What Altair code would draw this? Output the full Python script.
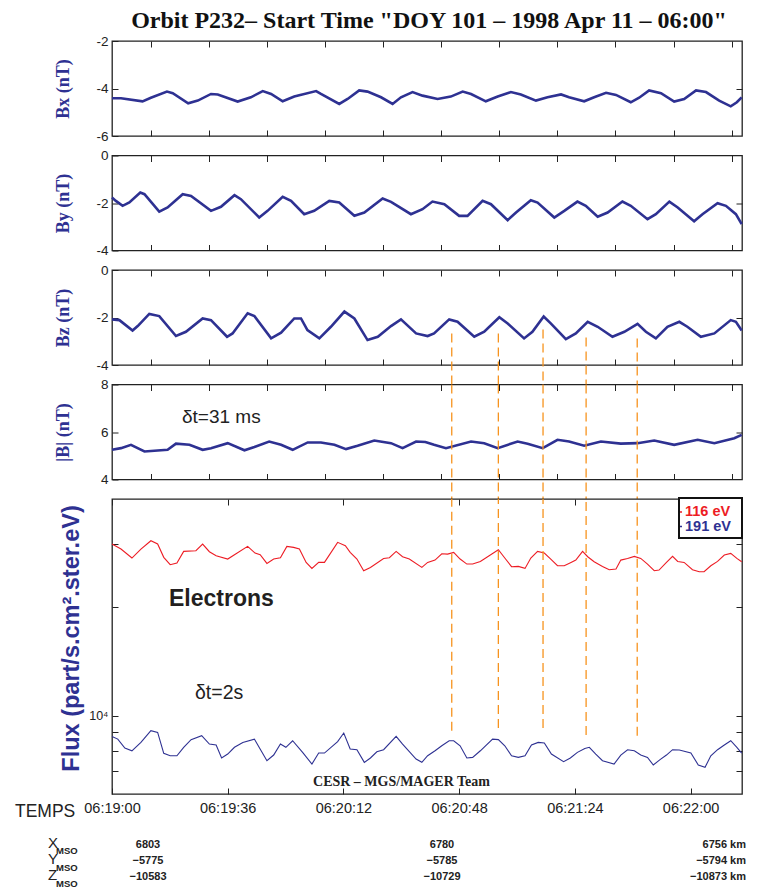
import json
import altair as alt
import pandas as pd

# ---------------- data ----------------
# time axis: seconds after 06:19:00
BX_T = [0, 2.8, 9.5, 12.1, 17.1, 18.9, 23.7, 26.7, 30.8, 32.9, 39.1, 43.2, 46.9, 49.5, 53.1, 56.7, 63.5, 65.0, 70.7, 73.3,
        76.9, 79.5, 83.7, 87.3, 89.9, 93.5, 96.6, 101.3, 105.4, 109.1, 111.7, 116.3, 120.0, 124.1, 127.2, 131.9, 135.5, 139.7, 142.2, 146.9,
        150.0, 153.7, 156.8, 161.4, 164.0, 167.1, 170.8, 174.9, 178.0, 181.7, 184.8, 188.9, 192.5, 194.4, 195.9]
BX_V = [-4.41, -4.41, -4.54, -4.39, -4.13, -4.20, -4.62, -4.51, -4.23, -4.25, -4.55, -4.37, -4.11, -4.23, -4.54, -4.34, -4.11, -4.23, -4.65, -4.44,
        -4.08, -4.13, -4.37, -4.65, -4.37, -4.15, -4.30, -4.44, -4.34, -4.13, -4.23, -4.54, -4.34, -4.15, -4.25, -4.51, -4.37, -4.25, -4.37, -4.54,
        -4.37, -4.18, -4.27, -4.58, -4.39, -4.08, -4.20, -4.55, -4.44, -4.08, -4.15, -4.51, -4.75, -4.58, -4.37]

BY_T = [0, 1.2, 3.3, 5.4, 8.8, 10.1, 14.7, 17.3, 22.0, 24.6, 30.8, 33.9, 38.1, 40.1, 45.8, 48.4, 53.1, 55.7, 59.8, 62.9,
        67.6, 70.7, 75.4, 78.5, 84.2, 86.8, 93.0, 96.6, 99.7, 103.4, 108.0, 110.6, 115.3, 117.9, 123.1, 125.7, 130.3, 132.4, 137.6, 140.7,
        144.8, 147.4, 151.1, 154.2, 158.8, 161.4, 166.6, 169.2, 173.4, 176.0, 181.1, 183.7, 188.4, 191.0, 194.1, 195.9]
BY_V = [-1.77, -1.91, -2.12, -1.98, -1.56, -1.63, -2.36, -2.19, -1.63, -1.70, -2.33, -2.16, -1.67, -1.84, -2.61, -2.33, -1.74, -1.91, -2.47, -2.33,
        -1.91, -1.98, -2.54, -2.40, -1.81, -1.95, -2.47, -2.26, -1.94, -2.05, -2.54, -2.54, -1.91, -2.05, -2.72, -2.40, -1.88, -1.98, -2.61, -2.33,
        -1.94, -2.12, -2.58, -2.40, -1.94, -2.12, -2.68, -2.47, -1.94, -2.19, -2.77, -2.47, -2.01, -2.12, -2.47, -2.89]

BZ_T = [0, 2.3, 6.4, 8.0, 11.6, 14.7, 19.9, 23.0, 28.2, 30.8, 35.8, 37.5, 42.2, 44.3, 49.5, 52.6, 56.7, 58.8, 60.8, 64.5,
        68.1, 72.3, 75.4, 79.5, 82.7, 86.8, 89.9, 94.6, 98.2, 100.2, 104.9, 107.5, 112.7, 115.8, 120.5, 123.1, 128.2, 130.8, 134.3, 136.5,
        141.2, 144.3, 148.0, 151.1, 155.7, 159.4, 163.5, 166.1, 169.2, 172.8, 176.5, 179.0, 183.2, 187.4, 192.5, 194.1, 195.9]
BZ_V = [-2.08, -2.11, -2.55, -2.36, -1.85, -1.94, -2.78, -2.60, -2.04, -2.11, -2.81, -2.67, -1.82, -1.94, -2.88, -2.64, -2.04, -2.04, -2.53, -2.88,
        -2.39, -1.75, -2.04, -2.95, -2.81, -2.36, -2.08, -2.67, -2.78, -2.67, -2.08, -2.18, -2.81, -2.60, -1.99, -2.25, -2.88, -2.60, -1.96, -2.25,
        -2.91, -2.67, -2.18, -2.39, -2.81, -2.60, -2.27, -2.60, -2.88, -2.39, -2.18, -2.39, -2.81, -2.67, -2.11, -2.18, -2.55]

BM_T = [0, 2.8, 5.9, 10.1, 17.3, 19.9, 24.1, 28.2, 30.8, 36.0, 41.2, 44.3, 48.9, 52.6, 56.2, 60.9, 65.0, 69.2, 72.8, 76.4,
        81.6, 86.8, 90.4, 94.6, 97.5, 100.2, 103.9, 111.7, 115.8, 120.0, 126.2, 129.3, 134.0, 138.6, 142.2, 146.9, 152.1, 158.3, 163.5, 168.7,
        174.9, 182.2, 187.4, 193.6, 195.9]
BM_V = [5.25, 5.32, 5.46, 5.18, 5.25, 5.51, 5.46, 5.25, 5.32, 5.53, 5.23, 5.37, 5.60, 5.46, 5.25, 5.56, 5.56, 5.46, 5.28, 5.42,
        5.64, 5.53, 5.32, 5.60, 5.58, 5.46, 5.32, 5.60, 5.53, 5.32, 5.60, 5.51, 5.32, 5.67, 5.60, 5.42, 5.60, 5.51, 5.53, 5.64,
        5.46, 5.67, 5.53, 5.74, 5.88]

E116_T = [0.0, 2.8, 6.2, 9.0, 12.1, 14.2, 16.1, 18.1, 20.2, 22.3, 26.1, 28.2, 30.3, 32.4, 36.0, 42.2, 44.5, 46.1, 48.2, 50.3,
          52.4, 54.4, 56.5, 58.3, 60.4, 62.2, 64.3, 66.1, 70.2, 72.6, 74.1, 76.2, 78.3, 80.4, 84.5, 86.3, 88.4, 90.4, 92.5, 96.4,
          98.2, 100.5, 102.6, 104.4, 106.3, 108.3, 110.4, 112.2, 114.6, 120.2, 122.2, 124.3, 126.4, 128.5, 130.3, 132.4, 134.5, 136.5, 138.6, 140.7,
          142.8, 144.3, 146.4, 148.0, 150.0, 152.6, 154.7, 156.8, 158.3, 160.4, 162.5, 164.5, 166.6, 168.7, 170.2, 172.5, 174.4, 176.0, 178.0, 180.6,
          182.7, 184.2, 186.3, 188.4, 190.5, 192.5, 194.4, 195.9]
E116_V = [29990, 29040, 27420, 29040, 30630, 29990, 27540, 26270, 26550, 28610, 28730, 29990, 28550, 27830, 27240, 29540, 28310, 28000, 26490, 27240,
          27480, 29540, 29350, 29040, 26660, 25660, 26660, 26660, 30310, 29670, 28430, 27240, 25280, 25820, 27350, 27480, 28610, 27650, 27240, 25820,
          26660, 27060, 28180, 28120, 28430, 27240, 26380, 26380, 26830, 28920, 27420, 25940, 25990, 25660, 27420, 28610, 28310, 27240, 26100, 26100,
          26660, 27060, 28610, 27650, 26780, 25990, 25440, 25550, 27060, 27350, 27710, 27350, 26380, 25280, 25390, 26660, 27710, 26830, 26660, 25440,
          25120, 25120, 26100, 26830, 27940, 28250, 27350, 26780]

E191_T = [0.0, 1.8, 4.0, 6.2, 9.0, 12.1, 14.2, 16.1, 18.1, 20.2, 22.3, 24.6, 27.9, 30.3, 32.4, 34.1, 36.0, 38.1, 40.7, 44.3,
          46.4, 48.2, 50.3, 52.4, 54.1, 56.2, 59.3, 62.2, 64.3, 66.1, 70.2, 72.1, 74.1, 76.2, 78.5, 80.4, 82.4, 84.5, 88.4, 90.4,
          94.6, 96.4, 98.2, 100.5, 102.6, 104.9, 106.3, 108.3, 110.4, 112.2, 114.6, 118.4, 120.2, 122.2, 124.3, 126.4, 128.5, 130.5, 132.6, 134.5,
          136.7, 140.5, 142.6, 144.8, 147.1, 148.5, 150.5, 152.6, 156.2, 158.3, 160.4, 162.5, 164.5, 166.6, 168.4, 170.5, 172.5, 174.4, 176.5, 180.1,
          182.4, 184.5, 186.3, 188.4, 190.5, 192.5, 194.4, 195.9]
E191_V = [8760, 8610, 8130, 7990, 8430, 9085, 8990, 7860, 7740, 7740, 8170, 8580, 8800, 8340, 8290, 7630, 7825, 8170, 8430, 8610,
          7990, 7500, 7775, 8340, 8170, 8520, 7910, 7340, 7875, 7875, 8470, 8950, 8080, 8045, 7420, 7630, 7940, 8045, 8760, 8340,
          7580, 7420, 7740, 7990, 8250, 8520, 8520, 8250, 7630, 7660, 7990, 8610, 8580, 8250, 7740, 7660, 7740, 8290, 8430, 8400,
          7825, 7450, 7630, 7910, 8110, 8170, 7825, 7500, 7340, 7775, 8045, 7990, 7775, 7660, 7295, 7550, 7775, 8045, 8030, 7875,
          7295, 7186, 7740, 8045, 8290, 8520, 8170, 7875]

DASH_T = [105.7, 120.2, 134.1, 147.5, 163.4]
DASH_BZ_START = [-2.67, -2.67, -2.50, -2.84, -2.88]
DASH_FLUX_END = [9085, 9240, 9240, 8840, 8800]

MAG_XTICKS = [12.1, 30.2, 48.2, 66.3, 84.4, 102.4, 120.5, 138.6, 156.6, 174.7, 192.8]
FLUX_XTICKS = [0, 36, 72, 108, 144, 180]
FLUX_XLABELS = ["06:19:00", "06:19:36", "06:20:12", "06:20:48", "06:21:24", "06:22:00"]
FLUX_YTICKS = [7000, 8000, 9000, 10000, 20000, 30000]

COORD_ROWS = ["X", "Y", "Z"]
COORD_START = ["6803", "\u22125775", "\u221210583"]
COORD_MID = ["6780", "\u22125785", "\u221210729"]
COORD_END = ["6756 km", "\u22125794 km", "\u221210873 km"]

TITLE = 'Orbit P232\u2013 Start Time "DOY 101 \u2013 1998 Apr 11 \u2013 06:00"'

# ---------------- style ----------------
NAVY = "#2E3192"
RED = "#ED1C24"
ORANGE = "#F7931E"
INK = "#222222"
SANS = "Liberation Sans"
SERIF = "Liberation Serif"

W, H, HF, SP = 630, 95, 295, 19.5
OFF = 6
xscale = alt.Scale(domain=[0, 196], nice=False, zero=False)
flux_scale = alt.Scale(type="log", domain=[6060, 40000], nice=False, zero=False)


def text_layer(s, x, y, size, font=SANS, weight="normal", color=INK, align="left", baseline="alphabetic"):
    return alt.Chart(pd.DataFrame({"s": [s]})).mark_text(
        font=font, fontSize=size, fontWeight=weight, color=color, align=align, baseline=baseline
    ).encode(text="s:N", x=alt.value(x), y=alt.value(y))


def tick_axis(orient, values, **kw):
    base = dict(orient=orient, values=values, labels=False, offset=-OFF, tickSize=OFF,
                domain=False, grid=False, title=None, tickColor=INK)
    base.update(kw)
    return alt.Axis(**base)


def mag_panel(t, v, dom, yticks, title, extra=()):
    df = pd.DataFrame({"t": t, "v": v})
    ysc = alt.Scale(domain=dom, nice=False, zero=False)
    yaxis = tick_axis(
        "left", yticks, labels=True, labelExpr="toString(datum.value)", labelPadding=4,
        labelFont=SANS, labelFontSize=13.5, labelColor=INK,
        title=title, titleFont=SERIF, titleFontSize=18, titleFontWeight="bold", titleColor=NAVY,
        titleX=-55, titleY=H / 2, titleAngle=-90, titleAlign="center", titleBaseline="middle",
    )
    line = alt.Chart(df).mark_line(color=NAVY, strokeWidth=2.6).encode(
        x=alt.X("t:Q", scale=xscale, axis=tick_axis("bottom", MAG_XTICKS)),
        y=alt.Y("v:Q", scale=ysc, axis=yaxis),
    )
    ghost = alt.Chart(df).mark_line(strokeOpacity=0).encode(
        x=alt.X("t:Q", scale=xscale, axis=tick_axis("top", MAG_XTICKS)),
        y=alt.Y("v:Q", scale=ysc, axis=tick_axis("right", [yticks[1]])),
    )
    layers = [line, ghost] + [e(ysc) for e in extra]
    return alt.layer(*layers).resolve_axis(x="independent", y="independent").properties(width=W, height=H)


dash_style = dict(color=ORANGE, strokeDash=[9, 5], strokeWidth=1.3)


def title_text(ysc):
    return text_layer(TITLE, 317, -13, 24, font=SERIF, weight="bold", color="#111111", align="center")


def bz_dashes(ysc):
    df = pd.DataFrame({"t": DASH_T, "ys": DASH_BZ_START})
    return alt.Chart(df).mark_rule(**dash_style).encode(
        x=alt.X("t:Q", scale=xscale, axis=None),
        y=alt.Y("ys:Q", scale=ysc, axis=None),
        y2=alt.value(H + SP),
    )


def bmag_dashes(ysc):
    df = pd.DataFrame({"t": DASH_T})
    return alt.Chart(df).mark_rule(**dash_style).encode(
        x=alt.X("t:Q", scale=xscale, axis=None),
        y=alt.value(0),
        y2=alt.value(H + SP),
    )


def bmag_text(ysc):
    return text_layer("\u03b4t=31 ms", 70, 38, 19)


bx = mag_panel(BX_T, BX_V, [-6, -2], [-6, -4, -2], "Bx (nT)", extra=(title_text,))
by = mag_panel(BY_T, BY_V, [-4, 0], [-4, -2, 0], "By (nT)")
bz = mag_panel(BZ_T, BZ_V, [-4, 0], [-4, -2, 0], "Bz (nT)", extra=(bz_dashes,))
bm = mag_panel(BM_T, BM_V, [4, 8], [4, 6, 8], "|B| (nT)", extra=(bmag_dashes, bmag_text))

# ---------------- flux panel ----------------
df116 = pd.DataFrame({"t": E116_T, "f": E116_V})
df191 = pd.DataFrame({"t": E191_T, "f": E191_V})
label_expr = "{}[indexof({}, datum.value)]".format(json.dumps(FLUX_XLABELS), json.dumps(FLUX_XTICKS))

red = alt.Chart(df116).mark_line(color=RED, strokeWidth=1.1).encode(
    x=alt.X("t:Q", scale=xscale, axis=tick_axis(
        "bottom", FLUX_XTICKS, labels=True, labelExpr=label_expr, labelFlush=False,
        labelFont=SANS, labelFontSize=14.5, labelColor=INK, labelPadding=7)),
    y=alt.Y("f:Q", scale=flux_scale, axis=tick_axis(
        "left", FLUX_YTICKS, labels=True, labelExpr="datum.value == 10000 ? '10\u2074' : ''",
        labelFont=SANS, labelFontSize=12.5, labelColor=INK, labelPadding=4,
        title="Flux (part/s.cm\u00b2.ster.eV)", titleFont=SANS, titleFontSize=23.5, titleFontWeight="bold",
        titleColor=NAVY, titleX=-47, titleY=139, titleAngle=-90, titleAlign="center", titleBaseline="middle")),
)
blue = alt.Chart(df191).mark_line(color=NAVY, strokeWidth=1.1).encode(
    x=alt.X("t:Q", scale=xscale, axis=None),
    y=alt.Y("f:Q", scale=flux_scale, axis=None),
)
ghost_f = alt.Chart(df116).mark_line(strokeOpacity=0).encode(
    x=alt.X("t:Q", scale=xscale, axis=tick_axis("top", FLUX_XTICKS)),
    y=alt.Y("f:Q", scale=flux_scale, axis=tick_axis("right", FLUX_YTICKS)),
)
dash_f = alt.Chart(pd.DataFrame({"t": DASH_T, "fe": DASH_FLUX_END})).mark_rule(**dash_style).encode(
    x=alt.X("t:Q", scale=xscale, axis=None),
    y=alt.Y("fe:Q", scale=flux_scale, axis=None),
    y2=alt.value(0),
)
legend_box = alt.Chart(pd.DataFrame({"s": [""]})).mark_rect(
    fill="white", stroke="#111111", strokeWidth=2
).encode(x=alt.value(567), x2=alt.value(630), y=alt.value(-1), y2=alt.value(39))
leg_red_tick = alt.Chart(pd.DataFrame({"s": [""]})).mark_rule(color=RED, strokeWidth=1.5).encode(
    x=alt.value(568), x2=alt.value(570), y=alt.value(13))
leg_blue_tick = alt.Chart(pd.DataFrame({"s": [""]})).mark_rule(color=NAVY, strokeWidth=1.5).encode(
    x=alt.value(568), x2=alt.value(570), y=alt.value(27.5))

flux_layers = [
    red, blue, ghost_f, dash_f,
    text_layer("Electrons", 57, 107, 23, weight="bold", color="#231F20"),
    text_layer("\u03b4t=2s", 83, 200, 19.5),
    text_layer("CESR \u2013 MGS/MAGER Team", 289.5, 287, 14, font=SERIF, weight="bold", align="center"),
    legend_box, leg_red_tick, leg_blue_tick,
    text_layer("116 eV", 573, 13, 14.5, weight="bold", color=RED, baseline="middle"),
    text_layer("191 eV", 573, 27.5, 14.5, weight="bold", color=NAVY, baseline="middle"),
    text_layer("TEMPS", -97, 318, 17.5),
]
row_base = [348.5, 365, 381]
for i, r in enumerate(COORD_ROWS):
    yb = row_base[i]
    flux_layers.append(text_layer(r, -64, yb, 15))
    flux_layers.append(text_layer("MSO", -56, yb + 6.5, 9.5, weight="bold"))
    flux_layers.append(text_layer(COORD_START[i], 36, yb, 11, weight="bold", align="center"))
    flux_layers.append(text_layer(COORD_MID[i], 330, yb, 11, weight="bold", align="center"))
    flux_layers.append(text_layer(COORD_END[i], 634, yb, 11, weight="bold", align="right"))

flux = alt.layer(*flux_layers).resolve_axis(x="independent", y="independent").properties(width=W, height=HF)

chart = alt.vconcat(bx, by, bz, bm, flux, spacing=SP, bounds="flush").properties(
    padding={"left": 6, "top": 0, "right": 4, "bottom": 0}
).configure(background="white").configure_view(stroke=INK, strokeWidth=1.3)

chart.save("out.html", embed_options={"renderer": "svg", "actions": False})
